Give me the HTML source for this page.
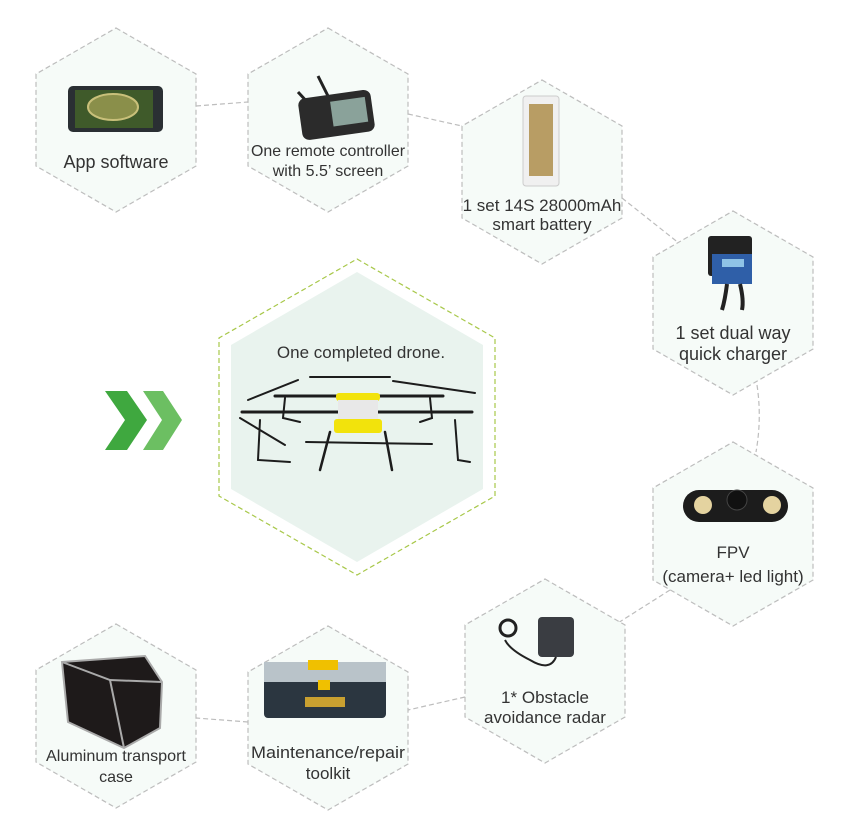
<!DOCTYPE html>
<html><head><meta charset="utf-8"><style>
html,body{margin:0;padding:0;background:#fff}
svg{display:block}
text{font-family:"Liberation Sans",sans-serif;fill:#333;text-anchor:middle}
</style></head><body>
<svg width="848" height="834" viewBox="0 0 848 834" xmlns="http://www.w3.org/2000/svg">
<g fill="none" stroke="#bdbdbd" stroke-width="1.2" stroke-dasharray="5,3">
<path d="M196,106 L248,102"/>
<path d="M408,114 L462,126"/>
<path d="M622,198 L680,244"/>
<path d="M757,385 Q762,418 756,452"/>
<path d="M670,590 L610,628"/>
<path d="M465,697 L408,710"/>
<path d="M248,722 L196,718"/>
</g>
<g fill="#f6fbf8" stroke="#bdbdbd" stroke-width="1.2" stroke-dasharray="5,3">
<polygon points="116,28 196,74 196,166 116,212 36,166 36,74"/>
<polygon points="328,28 408,74 408,166 328,212 248,166 248,74"/>
<polygon points="542,80 622,126 622,218 542,264 462,218 462,126"/>
<polygon points="733,211 813,257 813,349 733,395 653,349 653,257"/>
<polygon points="733,442 813,488 813,580 733,626 653,580 653,488"/>
<polygon points="545,579 625,625 625,717 545,763 465,717 465,625"/>
<polygon points="328,626 408,672 408,764 328,810 248,764 248,672"/>
<polygon points="116,624 196,670 196,762 116,808 36,762 36,670"/>
</g>
<polygon points="357,259 495,338 495,496 357,575 219,496 219,338" fill="#fff" stroke="#a8c84a" stroke-width="1.2" stroke-dasharray="5,3"/>
<polygon points="357,272 483,345 483,489 357,562 231,489 231,345" fill="#e9f3ee"/>
<!-- chevrons -->
<polygon points="105,391 127,391 147,420 127,450 105,450 125,420" fill="#3fa83f"/>
<polygon points="143,391 163,391 182,420 163,450 143,450 162,420" fill="#6cbf62"/>
<!-- app phone -->
<rect x="68" y="86" width="95" height="46" rx="5" fill="#2a2f33"/>
<rect x="75" y="90" width="78" height="38" fill="#3f5a2a"/>
<ellipse cx="113" cy="107" rx="25" ry="13" fill="#8a8f4a" stroke="#c9c07a" stroke-width="2"/>
<!-- remote -->
<line x1="298" y1="92" x2="310" y2="105" stroke="#222" stroke-width="3"/>
<line x1="318" y1="76" x2="330" y2="100" stroke="#222" stroke-width="3"/>
<rect x="300" y="94" width="73" height="42" rx="7" fill="#2b2b2b" transform="rotate(-8 336 115)"/>
<rect x="332" y="101" width="35" height="25" fill="#8aa29a" transform="rotate(-8 336 115)"/>
<!-- battery -->
<rect x="523" y="96" width="36" height="90" rx="3" fill="#f0f0f0" stroke="#ccc"/>
<rect x="529" y="104" width="24" height="72" fill="#b89d64"/>
<!-- charger -->
<rect x="708" y="236" width="44" height="40" rx="3" fill="#222"/>
<rect x="712" y="254" width="40" height="30" fill="#2f5fa8"/>
<rect x="722" y="259" width="22" height="8" fill="#8fc3e6"/>
<path d="M727,284 Q725,300 722,310 M740,284 Q744,300 742,310" stroke="#222" stroke-width="4" fill="none"/>
<!-- fpv -->
<rect x="683" y="490" width="105" height="32" rx="16" fill="#1c1c1c"/>
<circle cx="703" cy="505" r="9" fill="#e4d3a0"/>
<circle cx="772" cy="505" r="9" fill="#e4d3a0"/>
<circle cx="737" cy="500" r="10" fill="#111" stroke="#444"/>
<!-- radar -->
<rect x="538" y="617" width="36" height="40" rx="4" fill="#3a3d42"/>
<path d="M556,657 Q550,672 530,660 Q510,650 505,640" stroke="#222" stroke-width="2" fill="none"/>
<circle cx="508" cy="628" r="8" fill="none" stroke="#222" stroke-width="3"/>
<!-- toolkit -->
<rect x="264" y="668" width="122" height="50" rx="4" fill="#2b3640"/>
<rect x="264" y="662" width="122" height="20" fill="#b9c3c9"/>
<rect x="308" y="660" width="30" height="10" fill="#f0c000"/>
<rect x="318" y="680" width="12" height="10" fill="#f0c000"/>
<rect x="305" y="697" width="40" height="10" fill="#c9a030"/>
<!-- aluminum case -->
<polygon points="62,662 145,656 162,682 160,728 124,748 68,722" fill="#1e1a1a" stroke="#aaa" stroke-width="2"/>
<polyline points="62,662 110,680 162,682" fill="none" stroke="#aaa" stroke-width="2"/>
<line x1="110" y1="680" x2="124" y2="748" stroke="#aaa" stroke-width="2"/>
<!-- drone -->
<g stroke="#1c1c1c" fill="none" stroke-linecap="round">
<line x1="242" y1="412" x2="472" y2="412" stroke-width="3"/>
<line x1="275" y1="396" x2="443" y2="396" stroke-width="3"/>
<line x1="248" y1="400" x2="298" y2="380" stroke-width="2"/>
<line x1="310" y1="377" x2="390" y2="377" stroke-width="2"/>
<line x1="393" y1="381" x2="475" y2="393" stroke-width="2"/>
<line x1="240" y1="418" x2="285" y2="445" stroke-width="2"/>
<line x1="306" y1="442" x2="432" y2="444" stroke-width="2"/>
<line x1="330" y1="432" x2="320" y2="470" stroke-width="2.5"/>
<line x1="385" y1="432" x2="392" y2="470" stroke-width="2.5"/>
<path d="M260,420 L258,460 L290,462 M455,420 L458,460 L470,462 M285,398 L283,418 L300,422 M430,398 L432,418 L420,422" stroke-width="2"/>
</g>
<rect x="336" y="393" width="44" height="8" rx="3" fill="#f2e30c"/>
<rect x="338" y="400" width="40" height="20" fill="#e8e8e8"/>
<rect x="334" y="419" width="48" height="14" rx="3" fill="#f2e30c"/>
<text x="116" y="168" font-size="18">App software</text>
<g font-size="16">
<text x="328" y="156" textLength="154" lengthAdjust="spacingAndGlyphs">One remote controller</text>
<text x="328" y="176">with 5.5’ screen</text>
<text x="542" y="211" font-size="17">1 set 14S 28000mAh</text>
<text x="542" y="230" font-size="17">smart battery</text>
<text x="733" y="339" font-size="18">1 set dual way</text>
<text x="733" y="360" font-size="18">quick charger</text>
<text x="733" y="558" font-size="17">FPV</text>
<text x="733" y="582" font-size="17">(camera+ led light)</text>
<text x="545" y="703" font-size="17">1* Obstacle</text>
<text x="545" y="723" font-size="17">avoidance radar</text>
<text x="328" y="758" font-size="17" textLength="154" lengthAdjust="spacingAndGlyphs">Maintenance/repair</text>
<text x="328" y="779" font-size="17">toolkit</text>
<text x="116" y="761" textLength="140" lengthAdjust="spacingAndGlyphs">Aluminum transport</text>
<text x="116" y="782">case</text>
<text x="361" y="358" font-size="17">One completed drone.</text>
</g>
</svg>
</body></html>
